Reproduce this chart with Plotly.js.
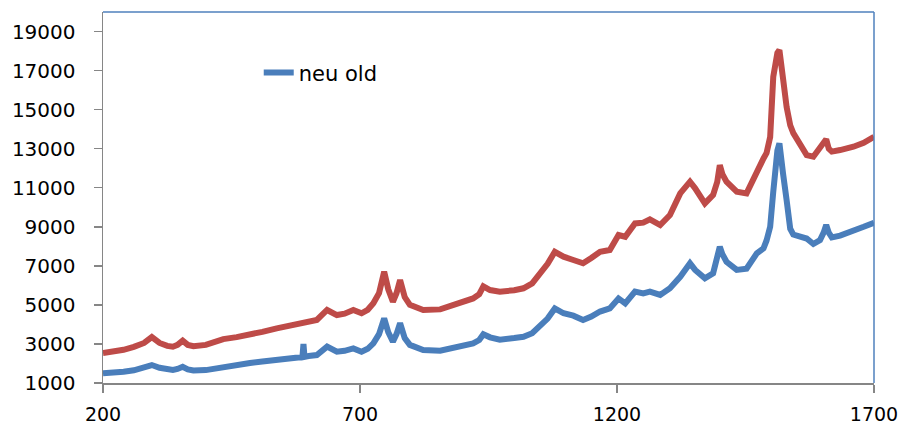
<!DOCTYPE html>
<html>
<head>
<meta charset="utf-8">
<script src="https://cdn.plot.ly/plotly-3.0.1.min.js"></script>
<style>html,body{margin:0;padding:0;background:#fff;}#chart{width:904px;height:427px;}</style>
</head>
<body>
<div id="chart"></div>
<script>
// Wavenumber positions (shared by both series)
var wavenumber = [200,220,240,260,280,295,310,325,336,345,355,365,376,400,434,460,486,510,538,560,583,588,590,592,600,616,636,655,670,687,703,715,726,737,747,755,764,771,778,787,797,810,823,856,888,920,932,940,953,972,1000,1018,1035,1050,1065,1079,1096,1115,1134,1150,1167,1186,1197,1203,1216,1235,1251,1264,1284,1303,1323,1335,1342,1352,1371,1387,1395,1400,1405,1413,1433,1452,1472,1485,1491,1498,1504,1508,1512,1516,1520,1523,1530,1537,1543,1556,1569,1582,1595,1602,1607,1612,1618,1634,1647,1660,1680,1700];

// Series "neu old" (blue)
var neuOld = [1500,1520,1580,1650,1780,1920,1780,1690,1670,1720,1830,1700,1640,1660,1830,1900,2020,2100,2180,2250,2310,2330,3000,2340,2380,2430,2860,2600,2650,2770,2600,2750,3030,3500,4310,3600,3120,3500,4060,3300,2950,2780,2690,2650,2860,3030,3200,3500,3340,3220,3300,3370,3550,3880,4300,4820,4570,4450,4230,4400,4660,4820,5100,5330,5080,5680,5590,5680,5510,5850,6440,6950,7130,6790,6360,6620,7300,7980,7600,7210,6790,6850,7640,7900,8300,9000,10800,12080,12900,13270,12600,11740,10370,8900,8600,8490,8400,8120,8320,8700,9090,8700,8460,8550,8660,8800,9000,9210];

// Second series (red, not shown in legend)
var redSeries = [2540,2600,2700,2850,3050,3350,3050,2900,2860,2950,3170,2950,2880,2950,3250,3350,3460,3620,3800,3900,4020,4040,4050,4060,4100,4230,4740,4480,4550,4740,4570,4750,5080,5600,6700,5800,5160,5600,6270,5400,5000,4850,4740,4770,5080,5330,5550,5950,5760,5680,5750,5850,6100,6620,7100,7720,7470,7300,7130,7400,7720,7810,8300,8580,8490,9170,9210,9380,9090,9600,10710,11100,11310,10970,10200,10630,11300,12160,11700,11310,10800,10710,11910,12500,12780,13600,16680,17500,17900,18050,17400,16600,15130,14200,13800,13190,12670,12590,13000,13300,13480,13000,12850,12930,13000,13100,13300,13610];

var xTicks = [200,700,1200,1700];
var yTicks = [1000,3000,5000,7000,9000,11000,13000,15000,17000,19000];

var traces = [
  {x: wavenumber, y: redSeries, type:'scatter', mode:'lines', name:'', showlegend:false,
   line:{color:'#BE4B48', width:6}},
  {x: wavenumber, y: neuOld, type:'scatter', mode:'lines', name:'neu old',
   line:{color:'#4A7EBB', width:6}}
];

var axisFont = {family:'DejaVu Sans', size:20, color:'#000'};

var layout = {
  width:904, height:427,
  margin:{l:103, r:30, t:12, b:44},
  paper_bgcolor:'#fff', plot_bgcolor:'#fff',
  showlegend:true,
  legend:{x:0.202, y:0.836, xanchor:'left', yanchor:'middle', bgcolor:'rgba(0,0,0,0)',
          font:{family:'DejaVu Sans', size:21, color:'#000'}, traceorder:'normal'},
  xaxis:{range:[200,1700], tickmode:'array', tickvals:xTicks, ticktext:xTicks.map(String),
         showgrid:false, zeroline:false, showline:true, linecolor:'#868686', linewidth:1.5,
         ticks:'outside', ticklen:8, tickcolor:'#868686', tickwidth:1.5,
         tickfont:{family:'DejaVu Sans', size:19, color:'#000'}, ticklabelstandoff:6},
  yaxis:{range:[1000,20000], tickmode:'array', tickvals:yTicks, ticktext:yTicks.map(String),
         showgrid:false, zeroline:false, showline:true, linecolor:'#868686', linewidth:1.5,
         ticks:'outside', ticklen:8, tickcolor:'#868686', tickwidth:1.5,
         tickfont:axisFont, ticklabelstandoff:14},
  shapes:[
    {type:'line', xref:'paper', yref:'paper', x0:0, x1:1, y0:1, y1:1, line:{color:'#4F81BD', width:1.5}},
    {type:'line', xref:'paper', yref:'paper', x0:1, x1:1, y0:0, y1:1, line:{color:'#4F81BD', width:1.5}}
  ]
};

Plotly.newPlot('chart', traces, layout, {staticPlot:true, displayModeBar:false});
</script>
</body>
</html>
